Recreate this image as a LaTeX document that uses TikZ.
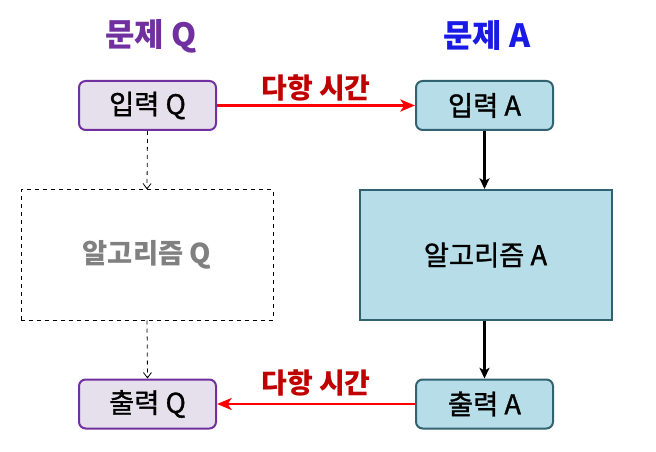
\documentclass[tikz,border=0pt]{standalone}
\usepackage{fontspec}
\setmainfont{Noto Sans CJK KR}
\newfontfamily\medfont{Noto Sans CJK KR}[FakeBold=1.2]
\usetikzlibrary{arrows.meta}
\definecolor{qpurple}{HTML}{7030A0}
\definecolor{qfill}{HTML}{E6E0EC}
\definecolor{afill}{HTML}{B7DEE8}
\definecolor{aborder}{HTML}{31626F}
\definecolor{ablue}{HTML}{1A1AE6}
\definecolor{dred}{HTML}{C00000}
\definecolor{agray}{HTML}{808080}
\tikzset{
  boxfont/.style={font=\medfont\fontsize{20.5}{22}\selectfont},
  qbox/.style={draw=qpurple, fill=qfill, line width=1.5pt, rounded corners=5pt,
    minimum width=102.75pt, minimum height=36.75pt, inner sep=0pt, boxfont},
  abox/.style={draw=aborder, fill=afill, line width=1.5pt, rounded corners=5pt,
    minimum width=102.75pt, minimum height=36.75pt, inner sep=0pt, boxfont},
  algq/.style={draw=black, dashed, line width=0.75pt, minimum width=189pt, minimum height=97.5pt,
    inner sep=0pt, text=agray, font=\fontsize{20.5}{22}\selectfont\bfseries},
  alga/.style={draw=aborder, fill=afill, line width=1.5pt, minimum width=189pt, minimum height=97.5pt,
    inner sep=0pt, boxfont},
  header/.style={font=\fontsize{24}{26}\selectfont\bfseries},
  redarrow/.style={draw=red, line width=2pt, -{Stealth[length=11pt,width=9pt,inset=3pt]}},
  blackarrow/.style={draw=black, line width=1.6pt, -{Stealth[length=8pt,width=7.5pt,inset=2pt]}},
  dasharrow/.style={draw=black, dashed, line width=0.6pt, -{Straight Barb[length=4pt,width=6pt]}},
  lbl/.style={text=dred, font=\fontsize{21}{23}\selectfont\bfseries, inner sep=0pt},
}
\begin{document}
\begin{tikzpicture}[x=0.75pt,y=-0.75pt]
\useasboundingbox (0,0) rectangle (656,452);
\node[header, text=qpurple] (hq) at (151,36) {문제 Q};
\node[header, text=ablue] (ha) at (487,36) {문제 A};
\node[qbox] (inq) at (147.5,105.5) {입력 Q};
\node[abox] (ina) at (484.5,105.5) {입력 A};
\node[algq] (algq) at (147,255) {알고리즘 Q};
\node[alga] (alga) at (485.5,255) {알고리즘 A};
\node[qbox] (outq) at (147.5,404) {출력 Q};
\node[abox] (outa) at (484.5,404) {출력 A};
\draw[redarrow] (inq.east) -- node[lbl, yshift=13.5pt] (l1) {다항 시간} (ina.west);
\draw[redarrow] (outa.west) -- node[lbl, yshift=16pt] (l2) {다항 시간} (outq.east);
\draw[dasharrow] (inq.south) -- (algq.north);
\draw[dasharrow] (algq.south) -- (outq.north);
\draw[blackarrow] (ina.south) -- (ina.south |- alga.north);
\draw[blackarrow] (outa.north |- alga.south) -- (outa.north);
\end{tikzpicture}
\end{document}
